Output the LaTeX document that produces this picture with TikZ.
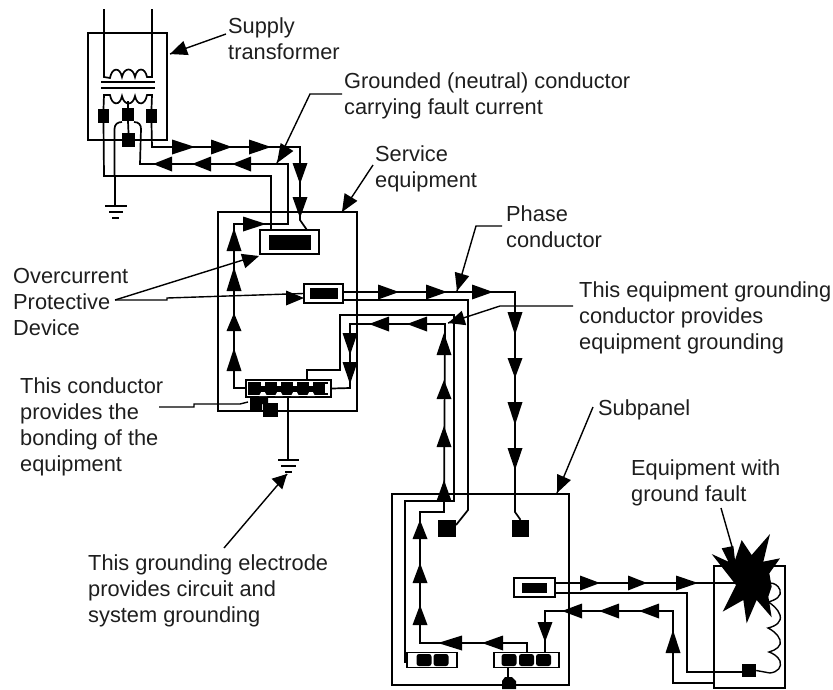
\documentclass[tikz,border=0pt]{standalone}
\usepackage{fontspec}
\setmainfont{Liberation Sans}
\usetikzlibrary{calc}
\definecolor{ink}{HTML}{000000}
\definecolor{txt}{HTML}{1E1E1E}
\tikzset{
  wire/.style={draw=ink,line width=1.7pt,line join=miter},
  thin wire/.style={draw=ink,line width=1.4pt},
  boxa/.style={draw=ink,line width=1.7pt,rectangle,inner sep=0pt},
  cb/.style={draw=ink,line width=1.7pt,fill=white,rectangle,inner sep=0pt},
  blk/.style={fill=ink,rectangle,inner sep=0pt},
  lbl/.style={text=txt,inner sep=0pt,align=left,anchor=north west,font=\fontsize{21.8}{26.2}\selectfont},
}
\newcommand{\tri}[4]{\fill[ink] ($(#1,#2)!7.5pt!90:(#3,#4)$) -- (#3,#4) -- ($(#1,#2)!7.5pt!-90:(#3,#4)$) -- cycle;}
\newcommand{\lab}[4]{\node[lbl] (#1) at (#2,{#3-16}) {\rule{0pt}{16pt}#4};}
\begin{document}
\begin{tikzpicture}[x=1pt,y=-1pt]
\useasboundingbox (0,0) rectangle (833,689);
% boxes
\node[boxa,minimum width=79pt,minimum height=107pt] (xf) at (127.5,86.5) {};
\node[boxa,minimum width=139pt,minimum height=199pt] (svc) at (287.5,311.5) {};
\node[boxa,minimum width=177pt,minimum height=191pt] (sub) at (480.5,589.5) {};
\node[boxa,minimum width=71pt,minimum height=122pt] (eq) at (749.5,627) {};
% transformer terminals
\node[blk,minimum width=11pt,minimum height=14pt] (t1) at (103.5,116) {};
\node[blk,minimum width=12pt,minimum height=13pt] (t2) at (128,114.5) {};
\node[blk,minimum width=11pt,minimum height=14pt] (t3) at (151.5,116) {};
\node[blk,minimum width=13pt,minimum height=14pt] (t4) at (128.5,140) {};
% transformer winding
\draw[wire] (104,9) -- (104,77) -- (110,78)
  .. controls (112,67) and (120,67) .. (122,77) .. controls (124,67) and (133,67) .. (135,77)
  .. controls (137,67) and (145,67) .. (147,77) -- (152,77) -- (152,9);
\draw[wire] (101,82) -- (155,82);
\draw[wire] (101,88) -- (155,88);
\draw[wire] (t1.north) -- (104,95) -- (110,95)
  .. controls (112,106) and (120,106) .. (122,96) .. controls (124,106) and (133,106) .. (135,96)
  .. controls (137,106) and (145,106) .. (147,95) -- (152,95) -- (t3.north);
\draw[wire] (t2.north) -- (128,101);
\draw[wire] (t2.south) -- (t4.north);
% neutral and ground
\node[cb,minimum width=59pt,minimum height=24pt] (ocpdA) at (289.5,242) {};
\node[blk,minimum width=42pt,minimum height=15pt] at (ocpdA) {};
\coordinate (n1) at (271,230);
\draw[wire] (t1.south) -- (104,176) -- (271,176) -- (n1);
\coordinate (g1) at (115,206);
\draw[wire] (115,176) -- (g1);
\draw[wire] (105,206) -- (127,206) (109,212) -- (123,212) (112,218) -- (119,218);
\draw[wire] (114.5,176) -- (114.5,129) .. controls (114.5,124) and (118,122) .. (122,122);
\draw[wire] (134,122) .. controls (139,122) and (141,125) .. (141,129) -- (140,164) -- (288,164) -- (288,224) -- (234,224) -- (234,388) -- (246,388);
\coordinate (n2) at (307,230);
\draw[wire] (t3.south) -- (152,147) -- (300,147) -- (300,220) -- (n2);
% bus in service equipment
\node[cb,minimum width=85pt,minimum height=17pt] (bus) at (288.5,388.5) {};
\fill[ink] (248,382) rectangle (328,395);
\foreach \x in {263,279,295,311}{
  \fill[white] (\x-2.2,382.4) rectangle (\x+2.2,386.2);
  \fill[white] (\x-4,396) -- (\x-1.8,392) -- (\x+1.8,392) -- (\x+4,396) -- cycle;
}
\fill[white] (325,384) rectangle (327.5,393);
\node[blk,minimum width=15pt,minimum height=14pt] (gb) at (270.5,410) {};
\fill[ink] (250,397) -- (268,397) -- (268,404) -- (262,404) -- (262,410) -- (250,410) -- cycle;
\draw[wire] (bus.south) ++(-0.5,0) -- (288,460);
\draw[wire] (278,460) -- (299,460) (281,466) -- (296,466) (285,472) -- (292,472);
\draw[wire] (307,380) -- (307,370) -- (340,370) -- (340,315) -- (454,315) -- (454,501) -- (405,501) -- (405,662) -- (407,662);
\coordinate (busR) at (bus.east);
\draw[wire] (busR) -- (350,388) -- (350,324) -- (445,324) -- (444,512) -- (420,512) -- (420,643) -- (527,643) -- (527,653);
% phase
\node[cb,minimum width=39pt,minimum height=19pt] (ocpdB) at (323.5,293.5) {};
\node[blk,minimum width=28pt,minimum height=11pt] at (ocpdB) {};
\node[blk,minimum width=18pt,minimum height=17pt] (s1) at (447,528.5) {};
\node[blk,minimum width=17pt,minimum height=17pt] (s2) at (520.5,528.5) {};
\draw[wire] (343,292) -- (515,292) -- (515,512) -- (s2.north);
\draw[wire] (343,300) -- (468,300) -- (468,510) -- (456,525);
% sub panel
\node[cb,minimum width=50pt,minimum height=15pt] (barL) at (432,660) {};
\node[cb,minimum width=65pt,minimum height=15pt] (barR) at (526.5,660) {};
\foreach \x in {424,441,509,526.5,543.5}{\fill[ink,rounded corners=2.5pt] (\x-7.5,654) rectangle (\x+7.5,666);}
\fill[ink] (502,681) -- (505,677) -- (512,677) -- (516,681) -- (516,689) -- (502,689) -- cycle;
\draw[wire] (508,667) -- (508,678);
\node[cb,minimum width=41pt,minimum height=19pt] (ocpdC) at (534.5,587.5) {};
\node[blk,minimum width=25pt,minimum height=10pt] at (ocpdC) {};
\draw[wire] (555,583) -- (740,583);
\draw[wire] (555,593) -- (687,593) -- (687,672) -- (742,672);
\draw[wire] (714,683) -- (673,683) -- (673,611) -- (545,611) -- (545,653);
% load
\node[blk,minimum width=14pt,minimum height=13pt] (ld) at (749,670.5) {};
\draw[thin wire] (ld.east) -- (770,673) .. controls (778,672) and (782,667) .. (780,661)
  .. controls (778,656) and (772,653) .. (769,652) .. controls (776,650) and (782,646) .. (780,640)
  .. controls (778,634) and (772,630) .. (768,628) .. controls (776,626) and (782,622) .. (780,615)
  .. controls (778,609) and (772,604) .. (768,602) .. controls (776,600) and (782,596) .. (780,590)
  .. controls (778,585) and (774,583) .. (770,583);
\begin{scope}[shift={(700,530)},x=.3333pt,y=-.3333pt]
\fill[ink] (125,30) -- (155,75) -- (210,12) -- (190,95) -- (240,85) -- (208,130) -- (215,170) -- (205,200) -- (215,262)
  -- (170,210) -- (140,280) -- (130,210) -- (68,245) -- (108,165) -- (35,72) -- (85,95) -- (65,55) -- (100,48) -- (105,90) -- cycle;
\end{scope}
% flow arrows
\foreach \a/\b in {172/195,211/232,249/271}{\tri{\a}{147}{\b}{147}}
\foreach \a/\b in {172/153,211/192,251/232}{\tri{\a}{164}{\b}{164}}
\tri{300}{163}{300}{184}\tri{300}{197}{300}{218}
\tri{243}{224}{266}{224}
\tri{234}{251}{234}{228}\tri{234}{291}{234}{267}\tri{234}{331}{234}{313}\tri{234}{371}{234}{348}
\tri{286}{298}{304}{298}
\foreach \a/\b in {378/399,426/447,472/493}{\tri{\a}{292}{\b}{292}}
\foreach \a/\b in {312/335,358/378,402/425,448/470}{\tri{515}{\a}{515}{\b}}
\tri{389}{324}{369}{324}\tri{427}{324}{407}{324}
\tri{350}{333}{350}{355}\tri{350}{362}{350}{384}
\tri{444}{355}{444}{333}\tri{444}{399}{444}{380}\tri{444}{447}{444}{426}\tri{444}{501}{444}{480}
\tri{420}{539}{420}{520}\tri{420}{583}{420}{563}\tri{420}{625}{420}{605}
\tri{462}{643}{438}{643}\tri{503}{643}{482}{643}
\tri{580}{583}{600}{583}\tri{628}{583}{647}{583}\tri{676}{583}{698}{583}
\tri{582}{611}{562}{611}\tri{619}{611}{599}{611}\tri{659}{611}{639}{611}
\tri{545}{622}{545}{642}
\tri{673}{653}{673}{630}
% labels
\lab{lSupply}{228}{33}{Supply\\transformer}
\lab{lGround}{344}{88}{Grounded (neutral) conductor\\carrying fault current}
\lab{lService}{375}{161}{Service\\equipment}
\lab{lPhase}{506}{221}{Phase\\conductor}
\lab{lOver}{13}{283}{Overcurrent\\Protective\\Device}
\lab{lEGC}{579}{297}{This equipment grounding\\conductor provides\\equipment grounding}
\lab{lBond}{20}{393}{This conductor\\provides the\\bonding of the\\equipment}
\lab{lSub}{598}{415}{Subpanel}
\lab{lFault}{631}{475}{Equipment with\\ground fault}
\lab{lElec}{88}{570}{This grounding electrode\\provides circuit and\\system grounding}
% label connectors
\coordinate (a1) at (226,34);
\coordinate (a1t) at (170,54);
\draw[thin wire] (a1) -- (a1t);
\tri{186}{48}{170}{54}
\coordinate (a2) at (342,94);
\draw[thin wire] (a2) -- (310,94) -- (277,163);
\tri{287}{147}{277}{163}
\coordinate (a3) at (373,165);
\draw[thin wire] (a3) -- (342,212);
\tri{351}{197}{342}{212}
\coordinate (a4) at (502,226);
\draw[thin wire] (a4) -- (476,226) -- (457,291);
\tri{462}{274}{457}{291}
\coordinate (a5) at (573,306);
\draw[thin wire] (a5) -- (500,306) -- (448,323);
\tri{464}{318}{448}{323}
\coordinate (a6) at (593,407);
\draw[thin wire] (a6) -- (557,493);
\tri{564}{477}{557}{493}
\coordinate (a7) at (721,508);
\draw[thin wire] (a7) -- (733,550);
\coordinate (a8) at (115,300);
\draw[thin wire] (a8) -- (243,260);
\tri{243}{261}{259}{256}
\draw[thin wire] (a8) -- (167,300) -- (167,298) -- (ocpdB.west);
\coordinate (a9) at (159,407);
\draw[thin wire] (a9) -- (194,407) -- (194,404) -- (240,404) -- (248,402);
\coordinate (a10) at (224,548);
\draw[thin wire] (a10) -- (287,474);
\tri{277}{484}{287}{474}
\end{tikzpicture}
\end{document}
